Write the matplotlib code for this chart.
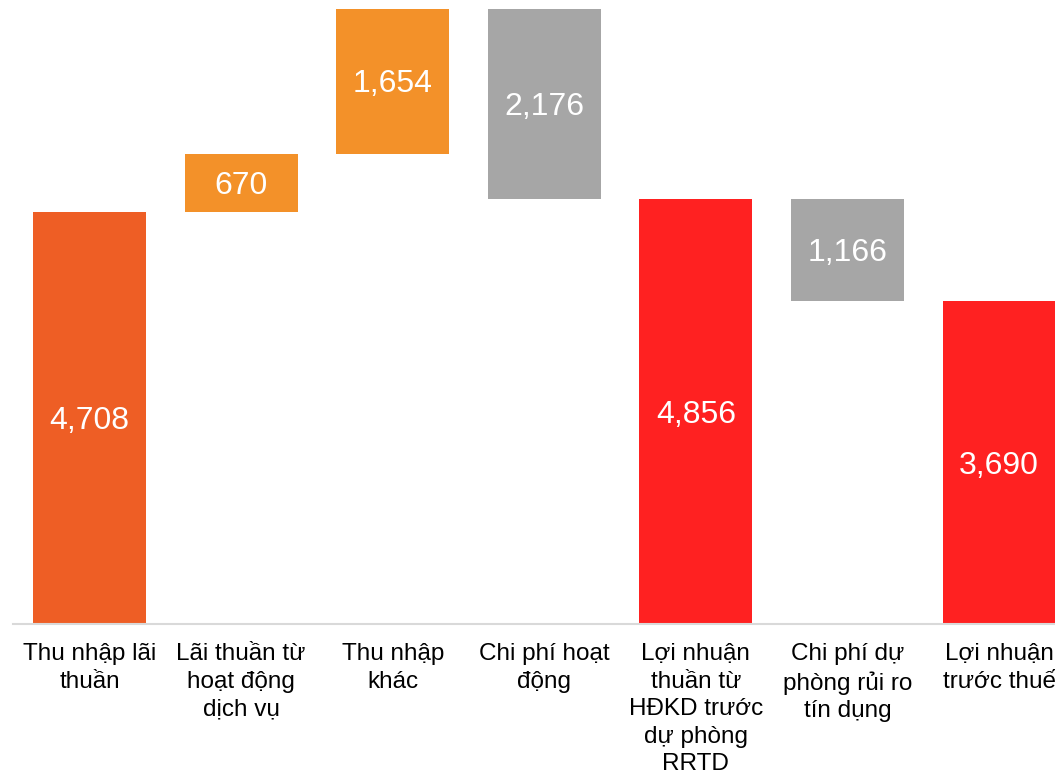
import matplotlib.pyplot as plt

plt.rcParams['font.family'] = ['Liberation Sans', 'DejaVu Sans']

categories = ["Thu nhập lãi\nthuần", "Lãi thuần từ\nhoạt động\ndịch vụ", "Thu nhập\nkhác",
              "Chi phí hoạt\nđộng", "Lợi nhuận\nthuần từ\nHĐKD trước\ndự phòng\nRRTD",
              "Chi phí dự\nphòng rủi ro\ntín dụng", "Lợi nhuận\ntrước thuế"]
values = [4708, 670, 1654, -2176, 4856, -1166, 3690]
kinds = ["total", "up", "up", "down", "total", "down", "total"]
colors = ["#EE5E25", "#F39129", "#F39129", "#A6A6A6", "#FF2121", "#A6A6A6", "#FF2121"]

fig = plt.figure(figsize=(10.55, 7.74), dpi=100)
ax = fig.add_axes([13 / 1055, 150 / 774, 1 - 13 / 1055, 624 / 774])

running = 0
for i, (v, k, c) in enumerate(zip(values, kinds, colors)):
    if k == "total":
        bottom, height = 0, v
        running = v
    elif k == "up":
        bottom, height = running, v
        running += v
    else:
        bottom, height = running + v, -v
        running += v
    ax.bar(i, height, bottom=bottom, width=0.745, color=c)
    # digits centred on the bar middle
    ax.annotate(f"{abs(v):,}", xy=(i, bottom + height / 2), xytext=(0, -8),
                textcoords="offset points", ha="center", va="baseline",
                color="white", fontsize=23)

ax.set_xlim(-0.505, 6.369)
ax.set_ylim(0, 7135)
ax.set_xticks(range(len(categories)))
ax.set_xticklabels(categories, fontsize=17.5, linespacing=1.32)
ax.tick_params(axis="x", length=0, pad=14)
ax.set_yticks([])
for s in ["top", "left", "right"]:
    ax.spines[s].set_visible(False)
ax.spines["bottom"].set_color("#D9D9D9")
ax.spines["bottom"].set_linewidth(1.5)

plt.savefig("out.png", dpi=100)
plt.close()
